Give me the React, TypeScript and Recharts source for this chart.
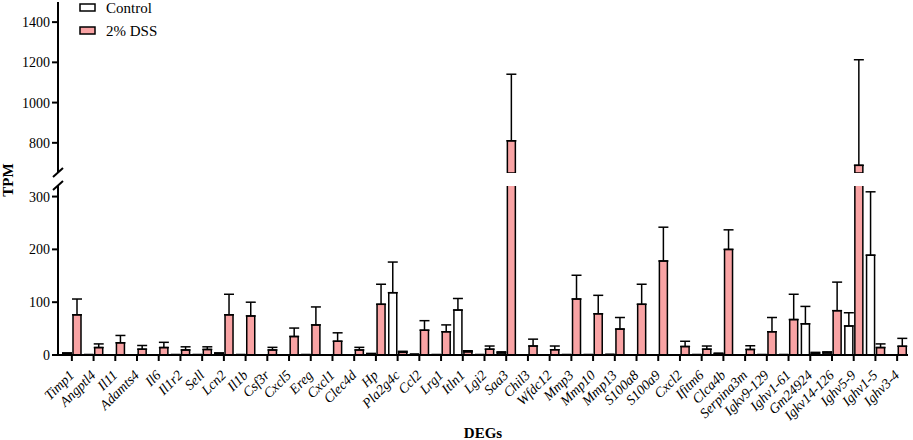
import { BarChart, Bar, XAxis, YAxis, ErrorBar, Legend } from 'recharts';

const genes = [
  'Timp1', 'Angptl4', 'Il11', 'Adamts4', 'Il6', 'Il1r2', 'Sell', 'Lcn2', 'Il1b', 'Csf3r',
  'Cxcl5', 'Ereg', 'Cxcl1', 'Clec4d', 'Hp', 'Pla2g4c', 'Ccl2', 'Lrg1', 'Itln1', 'Lgi2',
  'Saa3', 'Chil3', 'Wfdc12', 'Mmp3', 'Mmp10', 'Mmp13', 'S100a8', 'S100a9', 'Cxcl2', 'Ifitm6',
  'Clca4b', 'Serpina3m', 'Igkv9-129', 'Ighv1-61', 'Gm24924', 'Igkv14-126', 'Ighv5-9', 'Ighv1-5', 'Ighv3-4',
];
const controlTpm = [
  3, 1, 0, 0, 0.5, 1, 1, 3, 1, 0.5,
  0, 1, 0, 0, 2, 118, 2, 1, 85, 1,
  4, 0, 0, 1, 1, 1.5, 0.5, 0.5, 0, 1,
  2.5, 0, 1, 1, 59, 4, 55, 189, 0.5,
];
const controlSem = [
  1, 0, 0, 0, 0, 0, 0, 1, 0, 0,
  0, 0, 0, 0, 1, 58, 0, 0, 22, 0,
  2, 0, 0, 0, 0, 0, 0, 0, 0, 0,
  1, 0, 0, 0, 33, 2, 25, 120, 0,
];
const dssTpm = [
  76, 14, 23, 11, 14, 9.5, 10.5, 76, 74, 9.5,
  35, 57, 26, 9.5, 96, 5, 47, 44, 6, 11,
  810, 17, 10, 106, 78, 49, 96, 178, 16, 11,
  200, 10.5, 44, 67, 3, 84, 688, 14, 16.5,
];
const dssSem = [
  30, 7, 14, 7, 10, 6, 5, 39, 26, 5,
  16, 34, 16, 5, 38, 2, 18, 13, 2, 6,
  331, 13, 7, 45, 35, 22, 38, 64, 10, 6,
  37, 7, 27, 48, 2, 54, 525, 7, 15,
];

const lowerTicks = [0, 100, 200, 300];
const upperTicks = [800, 1000, 1200, 1400];
const LOWER_MAX = 320;
const UPPER_MIN = 650;
const UPPER_MAX = 1500;

const PINK = '#F9A3A4';
const FONT = "'Liberation Serif', 'Times New Roman', Times, serif";

const rows = genes.map((gene, i) => ({
  gene,
  control: controlTpm[i],
  dss: dssTpm[i],
  controlErr: controlTpm[i] <= LOWER_MAX && controlSem[i] > 0 ? [0, controlSem[i]] : undefined,
  dssErr: dssTpm[i] <= LOWER_MAX && dssSem[i] > 0 ? [0, dssSem[i]] : undefined,
  controlUp: controlTpm[i] > UPPER_MIN ? controlTpm[i] : null,
  dssUp: dssTpm[i] > UPPER_MIN ? dssTpm[i] : null,
  controlUpErr: controlTpm[i] > UPPER_MIN ? [0, controlSem[i]] : undefined,
  dssUpErr: dssTpm[i] > UPPER_MIN ? [0, dssSem[i]] : undefined,
}));

const axisStyle = {
  stroke: '#000',
  strokeWidth: 2,
};
const yTick = { fill: '#000', fontSize: 14, fontFamily: FONT };

function GeneTick({ x, y, payload }: any) {
  const tx = x + 3;
  const ty = y + 13;
  return (
    <text
      x={tx}
      y={ty}
      transform={`rotate(-45, ${tx}, ${ty})`}
      textAnchor="end"
      fontSize={14}
      fontStyle="italic"
      fontFamily={FONT}
      fill="#000"
    >
      {payload.value}
    </text>
  );
}

// legend drawn as a small svg so the spacing is exact
function LegendBox({ payload }: any) {
  const items = payload || [];
  return (
    <svg width={90} height={46}>
      {items.map((p: any, i: number) => (
        <g key={p.value} transform={`translate(0, ${i * 23})`}>
          <rect x={1} y={4} width={15} height={7} fill={p.color} stroke="#000" strokeWidth={1.5} />
          <text x={27} y={12.5} fontFamily={FONT} fontSize={15} fill="#000">
            {p.value}
          </text>
        </g>
      ))}
    </svg>
  );
}

export default function App() {
  return (
    <div style={{ position: 'absolute', left: 0, top: 0, width: 913, height: 440, background: '#fff' }}>
      <div style={{ position: 'absolute', left: 0, top: 0 }}>
        <BarChart
          width={913}
          height={175}
          data={rows}
          margin={{ top: 2, right: 5, bottom: 2, left: 0 }}
          barSize={8}
          barGap={2}
        >
          <XAxis dataKey="gene" type="category" hide padding={{ left: 3, right: 0 }} />
          <YAxis
            width={58}
            domain={[UPPER_MIN, UPPER_MAX]}
            ticks={upperTicks}
            allowDataOverflow
            tick={yTick}
            tickSize={6}
            axisLine={axisStyle}
            tickLine={axisStyle}
          />
          <Legend
            layout="vertical"
            align="center"
            verticalAlign="middle"
            itemSorter="dataKey"
            content={<LegendBox />}
            wrapperStyle={{ left: 79, top: 0, width: 90, height: 46 }}
          />
          <Bar dataKey="controlUp" name="Control" fill="#fff" stroke="#000" strokeWidth={1.5} isAnimationActive={false}>
            <ErrorBar dataKey="controlUpErr" direction="y" width={5} stroke="#000" strokeWidth={1.5} />
          </Bar>
          <Bar dataKey="dssUp" name="2% DSS" fill={PINK} stroke="#000" strokeWidth={1.5} isAnimationActive={false}>
            <ErrorBar dataKey="dssUpErr" direction="y" width={5} stroke="#000" strokeWidth={1.5} />
          </Bar>
        </BarChart>
      </div>
      <div style={{ position: 'absolute', left: 0, top: 175 }}>
        <BarChart
          width={913}
          height={265}
          data={rows}
          margin={{ top: 11, right: 5, bottom: 0, left: 0 }}
          barSize={8}
          barGap={2}
        >
          <XAxis
            dataKey="gene"
            type="category"
            interval={0}
            padding={{ left: 3, right: 0 }}
            height={85}
            tickSize={6}
            axisLine={axisStyle}
            tickLine={axisStyle}
            tick={<GeneTick />}
            label={{
              value: 'DEGs',
              position: 'insideBottom',
              offset: 2,
              fontFamily: FONT,
              fontSize: 15,
              fontWeight: 'bold',
              fill: '#000',
            }}
          />
          <YAxis
            width={58}
            domain={[0, LOWER_MAX]}
            ticks={lowerTicks}
            allowDataOverflow
            tick={yTick}
            tickSize={6}
            axisLine={axisStyle}
            tickLine={axisStyle}
          />
          <Bar dataKey="control" name="Control" fill="#fff" stroke="#000" strokeWidth={1.5} isAnimationActive={false}>
            <ErrorBar dataKey="controlErr" direction="y" width={5} stroke="#000" strokeWidth={1.5} />
          </Bar>
          <Bar dataKey="dss" name="2% DSS" fill={PINK} stroke="#000" strokeWidth={1.5} isAnimationActive={false}>
            <ErrorBar dataKey="dssErr" direction="y" width={5} stroke="#000" strokeWidth={1.5} />
          </Bar>
        </BarChart>
      </div>
      <svg width={913} height={440} style={{ position: 'absolute', left: 0, top: 0, pointerEvents: 'none' }}>
        <line x1={53} y1={177} x2={63} y2={168} stroke="#000" strokeWidth={2} />
        <line x1={53} y1={190} x2={63} y2={181} stroke="#000" strokeWidth={2} />
        <text
          x={13}
          y={180}
          transform="rotate(-90, 13, 180)"
          textAnchor="middle"
          fontFamily={FONT}
          fontSize={15}
          fontWeight="bold"
          fill="#000"
        >
          TPM
        </text>
      </svg>
    </div>
  );
}
